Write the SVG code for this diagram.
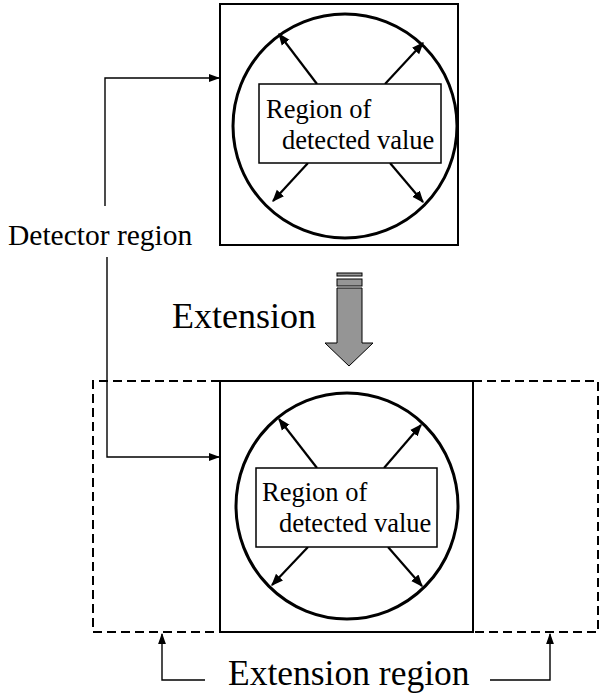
<svg xmlns="http://www.w3.org/2000/svg" width="600" height="697" viewBox="0 0 600 697">
<style>
.box{fill:none;stroke:#000;stroke-width:2}
.circ{fill:none;stroke:#000;stroke-width:3}
.lbl{fill:#fff;stroke:#000;stroke-width:1.5}
.arr{fill:none;stroke:#000;stroke-width:2.2;marker-end:url(#ah)}
.con{fill:none;stroke:#000;stroke-width:1.4;marker-end:url(#ah2)}
.dash{fill:none;stroke:#000;stroke-width:2;stroke-dasharray:9 5}
</style>
<defs>
<marker id="ah" viewBox="0 0 10 10" refX="9" refY="5" markerWidth="5.5" markerHeight="5.5" orient="auto" markerUnits="strokeWidth"><path d="M0,1 L10,5 L0,9 Z" fill="#000"/></marker>
<marker id="ah2" viewBox="0 0 10 10" refX="9" refY="5" markerWidth="8" markerHeight="8" orient="auto" markerUnits="strokeWidth"><path d="M0,1.5 L10,5 L0,8.5 Z" fill="#000"/></marker>
</defs>
<rect width="600" height="697" fill="#fff"/>

<g id="top-detector">
<rect class="box" x="220" y="4" width="238" height="241"/>
<ellipse class="circ" cx="345" cy="126" rx="112" ry="112"/>
<line class="arr" x1="317" y1="84" x2="279" y2="34"/>
<line class="arr" x1="385" y1="84" x2="423" y2="43"/>
<line class="arr" x1="308" y1="163" x2="273" y2="201"/>
<line class="arr" x1="390" y1="163" x2="423" y2="202"/>
<rect class="lbl" x="259" y="84" width="182" height="79"/>
<text font-family="Liberation Serif, serif" x="266" y="118" font-size="26.5">Region of</text>
<text font-family="Liberation Serif, serif" x="282" y="149" font-size="26.5">detected value</text>
</g>

<g id="extension-arrow">
<rect x="337" y="273" width="25" height="3" fill="#959595" stroke="#000" stroke-width="1"/>
<rect x="337" y="279" width="25" height="7" fill="#959595" stroke="#000" stroke-width="1"/>
<path d="M337,288 L362,288 L362,343 L373,343 L349,366 L325,343 L337,343 Z" fill="#959595" stroke="#000" stroke-width="1"/>
<text font-family="Liberation Serif, serif" x="172" y="328" font-size="36">Extension</text>
</g>

<g id="extension-region">
<path class="dash" d="M220,381 L93,381 L93,632 L220,632 M473,381 L598,381 L598,632 L473,632"/>
</g>

<g id="bottom-detector">
<rect class="box" x="220" y="381" width="253" height="251"/>
<ellipse class="circ" cx="347" cy="506" rx="111" ry="113"/>
<line class="arr" x1="317" y1="468" x2="279" y2="419"/>
<line class="arr" x1="384" y1="468" x2="421" y2="425"/>
<line class="arr" x1="308" y1="547" x2="272" y2="585"/>
<line class="arr" x1="388" y1="547" x2="422" y2="586"/>
<rect class="lbl" x="256" y="468" width="181" height="79"/>
<text font-family="Liberation Serif, serif" x="262" y="501" font-size="26.5">Region of</text>
<text font-family="Liberation Serif, serif" x="279" y="532" font-size="26.5">detected value</text>
</g>

<g id="labels">
<text font-family="Liberation Serif, serif" x="8" y="245" font-size="29.5">Detector region</text>
<text font-family="Liberation Serif, serif" x="228" y="685" font-size="35.5">Extension region</text>
</g>

<g id="connectors">
<polyline class="con" points="105,206 105,78 219,78"/>
<polyline class="con" points="107,257 107,457 219,457"/>
<polyline class="con" points="205,680 162,680 162,634"/>
<polyline class="con" points="490,680 550,680 550,634"/>
</g>
</svg>
